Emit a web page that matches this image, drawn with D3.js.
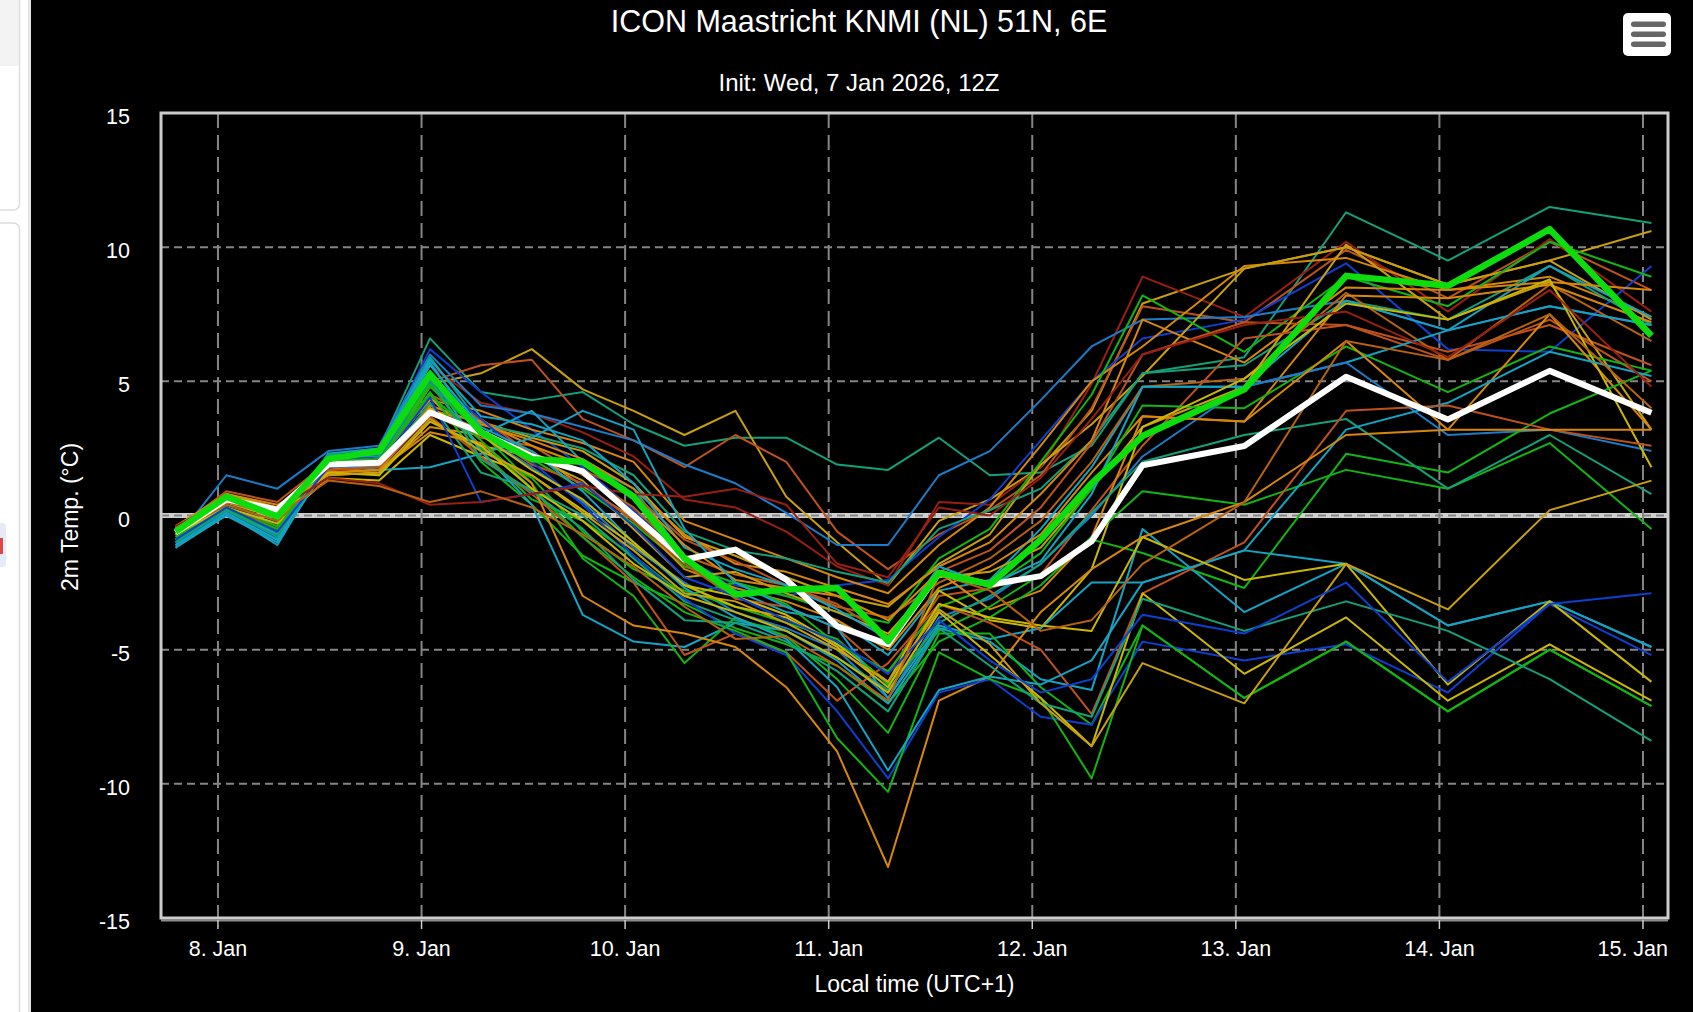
<!DOCTYPE html>
<html>
<head>
<meta charset="utf-8">
<script src="https://cdn.jsdelivr.net/npm/d3@7"></script>
<style>
  html, body { margin: 0; padding: 0; background: #fff; overflow: hidden; }
  svg { display: block; font-family: "Liberation Sans", Arial, Helvetica, sans-serif; }
</style>
</head>
<body>
<svg id="chart"></svg>
<script>
const W = 1693;
const H = 1012;

// ── Data ──────────────────────────────────────────────────────────────────────

const TITLE    = 'ICON Maastricht KNMI (NL) 51N, 6E';
const SUBTITLE = 'Init: Wed, 7 Jan 2026, 12Z';
const Y_TITLE  = '2m Temp. (°C)';
const X_TITLE  = 'Local time (UTC+1)';

const INIT_UTC   = Date.UTC(2026, 0, 7, 12);
const UTC_OFFSET = 1;
// forecast steps (hours after init): 6-hourly to +120h, then 12-hourly
const STEP_HOURS = [6, 12, 18, 24, 30, 36, 42, 48, 54, 60, 66, 72, 78, 84, 90,
                    96, 102, 108, 114, 120, 132, 144, 156, 168, 180];

const DAY_TICKS   = [8, 9, 10, 11, 12, 13, 14, 15];
const DAY_LABELS  = ['8. Jan', '9. Jan', '10. Jan', '11. Jan', '12. Jan', '13. Jan', '14. Jan', '15. Jan'];
const Y_TICKS     = [-15, -10, -5, 0, 5, 10, 15];

// ensemble members, one colour each
const MEMBER_COLORS = [
  'teal', 'gold', 'rust', 'darkred', 'blue', 'ltblue', 'orange', 'gold', 'teal', 'cyan',
  'green', 'orange', 'rust', 'brown', 'orange', 'gold', 'rust', 'green', 'cyan', 'ltblue',
  'orange', 'yellow', 'green', 'green', 'teal', 'cyan', 'cyan', 'green', 'rust', 'orange',
  'blue', 'green', 'cyan', 'yellow', 'yellow', 'teal', 'gold', 'blue', 'darkred', 'brown',
];

const MEMBERS = [
  [-0.8, 0.4, -0.2, 2.3, 2.5, 6.6, 4.6, 4.3, 4.6, 3.4, 2.6, 2.9, 2.9, 1.9, 1.7, 2.9, 1.5, 1.6, 2.6, 5.3, 5.9, 11.3, 9.5, 11.5, 10.9],
  [-0.6, 0.8, 0.2, 1.8, 2.0, 4.9, 5.3, 6.2, 4.7, 3.9, 3.0, 3.9, 0.7, -1.0, -2.6, -0.2, 0.6, 1.8, 3.9, 7.9, 9.2, 10.0, 8.6, 9.5, 7.3],
  [-0.5, 0.9, 0.5, 2.0, 2.2, 5.0, 5.6, 5.8, 3.6, 2.8, 1.8, 3.0, 2.0, -0.6, -2.0, -0.7, 0.2, 1.5, 4.0, 7.8, 7.2, 9.9, 8.1, 10.2, 8.4],
  [-0.7, 0.6, 0.0, 2.1, 2.3, 5.6, 4.2, 3.8, 3.1, 2.2, 0.6, 0.3, -0.6, -1.9, -2.6, 0.5, 0.4, 1.8, 4.9, 8.9, 7.4, 10.2, 7.6, 10.3, 7.6],
  [-1.0, 0.5, -0.4, 2.2, 2.4, 6.2, 4.6, 3.2, 1.8, 0.2, -1.6, -2.6, -3.0, -2.6, -2.4, -0.8, 0.6, 2.8, 5.0, 6.6, 7.3, 9.4, 6.2, 6.1, 9.3],
  [-0.9, 1.5, 1.0, 2.4, 2.6, 6.0, 4.1, 3.8, 3.3, 2.8, 1.9, 1.2, 0.1, -1.1, -1.1, 1.5, 2.4, 4.3, 6.3, 7.3, 7.4, 8.0, 6.9, 7.8, 7.1],
  [-0.4, 0.7, 0.3, 1.9, 2.1, 4.3, 3.9, 3.2, 2.7, 2.0, -0.2, -0.9, -1.6, -2.3, -2.9, -1.1, 0.3, 2.6, 5.0, 6.3, 9.3, 9.6, 8.4, 8.9, 7.4],
  [-0.6, 0.5, 0.0, 1.7, 1.9, 4.8, 3.5, 2.9, 2.4, 1.2, -0.8, -1.5, -2.3, -3.0, -3.4, -1.8, -0.7, 1.9, 3.4, 5.2, 9.2, 10.0, 8.6, 9.5, 10.6],
  [-1.1, 0.2, -0.6, 2.2, 2.4, 5.9, 3.4, 3.0, 2.5, 1.5, -0.6, -1.3, -1.6, -2.1, -2.5, -0.5, 0.2, 1.0, 2.8, 5.3, 5.6, 8.0, 7.3, 9.3, 7.1],
  [-1.2, 0.1, -1.1, 2.1, 2.3, 5.7, 3.0, 3.9, 2.0, 1.0, -1.5, -2.8, -3.6, -3.9, -5.2, -2.8, -2.4, -0.5, 1.8, 4.8, 4.8, 8.0, 6.9, 9.3, 7.4],
  [-0.8, 0.3, -0.4, 2.0, 1.5, 5.4, 3.1, 2.1, 1.0, -0.3, -1.9, -2.5, -3.0, -3.6, -4.0, -1.6, -0.5, 2.0, 4.5, 8.2, 6.1, 8.9, 7.8, 10.2, 8.9],
  [-0.5, 0.6, 0.2, 1.7, 1.8, 4.1, 3.4, 2.8, 2.1, 1.0, -0.7, -1.8, -2.1, -2.7, -3.3, -1.9, -1.0, 0.8, 2.8, 7.3, 5.7, 8.5, 8.4, 8.7, 8.4],
  [-0.6, 0.7, 0.1, 1.9, 2.0, 4.5, 3.6, 2.3, 1.7, 0.8, -0.9, -1.7, -2.6, -3.3, -4.5, -2.1, -1.3, 0.3, 2.7, 6.0, 7.2, 7.1, 6.1, 7.1, 5.6],
  [-0.7, 0.4, -0.2, 1.6, 1.7, 3.8, 2.9, 2.6, 1.5, 0.3, -1.5, -2.2, -2.6, -3.4, -3.8, -2.5, -1.6, -0.2, 2.0, 4.8, 5.1, 8.3, 5.8, 8.6, 6.5],
  [-0.4, 0.8, 0.4, 1.5, 1.6, 3.3, 3.0, 2.4, 1.1, -0.1, -2.0, -2.7, -3.2, -3.9, -5.0, -2.7, -1.9, -0.7, 1.6, 3.7, 3.5, 8.2, 8.1, 8.6, 7.2],
  [-0.6, 0.5, -0.1, 1.8, 1.9, 4.4, 2.6, 2.2, 1.3, -0.5, -2.3, -2.1, -2.9, -3.6, -4.4, -2.3, -2.1, -1.2, 1.0, 3.3, 4.8, 10.1, 7.3, 8.7, 3.2],
  [-0.9, 0.3, -0.5, 1.9, 2.1, 4.0, 3.2, 1.9, 1.2, -0.2, -1.8, -3.1, -3.4, -4.2, -5.9, -3.0, -2.7, -2.2, 0.2, 2.6, 6.6, 7.1, 5.8, 7.3, 5.0],
  [-1.0, 0.2, -0.7, 2.0, 2.2, 5.0, 2.4, 0.6, -0.2, -1.5, -3.0, -2.5, -3.3, -4.8, -5.8, -3.4, -2.7, -1.4, 1.0, 4.1, 4.0, 6.3, 4.6, 6.3, 5.4],
  [-1.1, 0.0, -0.9, 2.3, 2.5, 5.8, 3.7, 3.4, 2.8, 1.2, -1.2, -2.0, -2.6, -3.5, -4.6, -1.9, -2.6, -1.7, 0.8, 4.8, 4.8, 5.7, 6.9, 7.8, 7.1],
  [-0.9, 0.1, -0.8, 2.0, 2.1, 5.0, 3.0, 1.8, 0.5, -1.2, -2.5, -3.6, -4.2, -5.0, -6.8, -3.8, -3.1, -1.8, 0.0, 2.2, 4.8, 5.7, 3.0, 3.2, 2.4],
  [-0.5, 0.6, 0.1, 1.6, 1.7, 3.9, 3.5, 2.6, 1.9, 0.7, -1.1, -2.4, -2.7, -3.0, -3.9, -2.1, -3.5, -2.8, -0.8, 3.7, 3.5, 6.5, 3.2, 7.5, 3.2],
  [-0.7, 0.3, -0.3, 1.4, 1.3, 3.0, 2.2, 1.5, 0.2, -1.1, -2.6, -3.0, -3.7, -4.8, -6.2, -2.8, -3.9, -4.2, -2.0, 3.3, 5.1, 7.9, 7.3, 8.8, 1.8],
  [-1.0, 0.1, -0.6, 2.1, 2.0, 4.6, 2.0, 0.4, -1.5, -2.5, -3.3, -4.2, -4.8, -5.6, -7.0, -4.7, -3.8, -2.6, -0.8, 0.9, 0.4, 1.7, 1.0, 2.7, -0.5],
  [-0.9, 0.2, -0.5, 2.2, 2.3, 4.9, 2.5, 1.4, -0.6, -2.0, -2.8, -3.4, -4.0, -4.6, -6.3, -4.3, -3.4, -2.2, -0.9, -1.4, -2.7, 2.3, 1.6, 3.8, 5.4],
  [-1.1, 0.0, -0.9, 2.0, 1.8, 4.2, 1.6, 1.0, 0.0, -1.6, -3.2, -3.9, -4.3, -5.3, -6.5, -4.0, -3.0, -1.8, 0.1, 2.0, 3.0, 3.6, 1.0, 3.0, 0.8],
  [-1.2, 0.0, -1.0, 1.9, 1.7, 1.8, 2.3, 2.9, 3.9, 3.2, -0.5, -2.5, -3.4, -4.2, -6.8, -4.1, -4.6, -4.2, -2.5, -2.5, -1.3, 3.2, 4.2, 6.1, 5.2],
  [-1.0, 0.2, -0.7, 2.1, 2.2, 5.3, 2.4, 0.4, -3.7, -4.7, -4.9, -4.0, -4.3, -5.4, -7.0, -4.2, -4.7, -6.1, -6.5, -0.5, -3.6, -1.8, -4.1, -3.2, -4.9],
  [-0.9, 0.3, -0.6, 2.2, 2.0, 4.8, 3.1, 1.2, -1.6, -3.0, -5.5, -3.8, -4.5, -6.1, -8.1, -4.4, -4.4, -6.4, -7.8, -4.1, -6.8, -4.7, -7.3, -5.0, -7.1],
  [-0.6, 0.5, 0.0, 1.7, 1.8, 3.7, 2.2, 0.8, -0.8, -2.5, -5.2, -4.4, -5.1, -6.9, -5.5, -3.3, -4.0, -5.0, -7.4, -2.9, -1.0, 3.9, 4.1, 3.2, 2.6],
  [-0.5, 0.7, 0.2, 1.6, 1.7, 3.1, 2.7, 1.2, -3.0, -4.1, -4.4, -4.9, -6.4, -8.8, -13.1, -6.9, -6.0, -3.6, -2.0, -0.8, 0.5, 3.0, 3.2, 3.2, 3.2],
  [-1.0, 0.1, -0.8, 2.1, 2.2, 5.2, 3.6, 2.0, 0.4, -1.5, -3.1, -4.4, -5.2, -7.3, -9.8, -6.6, -6.1, -7.5, -7.8, -4.7, -5.4, -4.8, -6.6, -3.3, -5.2],
  [-0.9, 0.2, -0.6, 2.0, 2.1, 4.5, 2.8, 1.0, -0.8, -2.3, -3.6, -4.3, -5.1, -8.3, -10.3, -5.1, -6.1, -6.8, -9.8, -4.1, -6.8, -4.7, -7.3, -5.0, -7.1],
  [-1.1, 0.1, -0.9, 2.2, 2.3, 5.6, 3.3, 2.4, 0.9, -1.0, -2.7, -3.8, -4.6, -6.4, -9.5, -6.5, -6.0, -6.3, -5.4, -2.5, -1.3, -1.8, -4.1, -3.2, -4.9],
  [-0.6, 0.6, 0.1, 1.8, 1.9, 4.0, 3.0, 1.7, 0.6, -1.0, -2.6, -3.4, -3.8, -4.9, -6.4, -3.3, -3.8, -4.1, -4.3, -0.8, -2.4, -1.8, -6.3, -3.2, -6.2],
  [-0.7, 0.5, -0.1, 1.6, 1.5, 3.5, 2.6, 1.0, -0.2, -1.8, -3.0, -3.6, -4.3, -5.3, -6.6, -3.6, -5.2, -6.8, -8.6, -2.9, -5.9, -3.8, -6.9, -4.8, -6.9],
  [-1.0, 0.2, -0.8, 2.3, 2.2, 5.1, 2.1, 0.9, -0.5, -2.4, -3.9, -4.0, -4.7, -5.8, -7.3, -4.2, -5.6, -7.0, -7.5, -3.1, -4.3, -3.2, -4.3, -6.1, -8.4],
  [-0.5, 0.8, 0.3, 1.5, 1.6, 3.6, 2.4, 1.5, 0.1, -1.3, -2.9, -3.2, -4.0, -5.0, -6.2, -3.5, -4.8, -7.0, -8.6, -5.5, -7.0, -1.8, -3.5, 0.2, 1.3],
  [-0.9, 0.3, -0.6, 1.8, 1.9, 4.4, 0.5, 0.8, 1.2, -0.4, -2.3, -3.0, -3.9, -4.7, -5.9, -3.9, -5.4, -6.6, -6.1, -3.7, -4.4, -2.5, -6.2, -3.3, -2.9],
  [-0.4, 0.6, 0.2, 1.4, 1.2, 0.4, 0.5, 0.8, 1.1, 0.8, 0.7, 1.0, 0.4, -1.8, -2.3, 0.3, 0.0, 1.4, 3.6, 6.0, 7.1, 7.6, 5.9, 8.4, 4.8],
  [-0.5, 0.5, 0.0, 1.3, 1.1, 0.5, 0.9, 0.3, -0.7, -1.9, -3.4, -4.6, -4.5, -5.6, -6.9, -2.2, -2.8, -4.3, -3.9, -1.8, 0.5, 6.5, 5.8, 7.5, 4.0],
];

// thick green run and thick white run
const CONTROL = [-0.6, 0.7, -0.04, 2.1, 2.4, 5.26, 3.1, 2.1, 2.0, 0.7, -1.6, -2.94, -2.76, -2.7, -4.68, -2.14, -2.57, -0.9, 1.2, 2.96, 4.7, 8.93, 8.56, 10.67, 6.7];
const MEAN    = [-0.63, 0.6, 0.22, 1.9, 1.97, 3.84, 3.1, 2.2, 1.64, 0.0, -1.64, -1.27, -2.39, -4.12, -4.8, -2.14, -2.57, -2.26, -0.96, 1.87, 2.59, 5.17, 3.58, 5.39, 3.83];

// ── Colors ────────────────────────────────────────────────────────────────────

const PALETTE = {
  teal:    '#13a07a',
  blue:    '#0d3fd0',
  ltblue:  '#1c7cc9',
  green:   '#12b512',
  cyan:    '#14a3c4',
  orange:  '#d8870a',
  gold:    '#c9a00c',
  yellow:  '#cdb800',
  rust:    '#bf521a',
  darkred: '#981f12',
  brown:   '#b8620f',
};

const GRID_COLOR   = '#858585';
const BORDER_COLOR = '#cccccc';
const TEXT_COLOR   = '#ffffff';

// ── Layout ────────────────────────────────────────────────────────────────────

const PLOT = { left: 161, right: 1668, top: 113, bottom: 918 };
const CHART_LEFT = 31;

const toLocal = h => new Date(INIT_UTC + (h + UTC_OFFSET) * 3600e3);
const TIMES = STEP_HOURS.map(toLocal);

const x = d3.scaleUtc()
  .domain([Date.UTC(2026, 0, 7, 17, 17), Date.UTC(2026, 0, 15, 2, 57)])
  .range([PLOT.left, PLOT.right]);

const y = d3.scaleLinear()
  .domain([-15, 15])
  .range([PLOT.bottom, PLOT.top]);

const svg = d3.select('#chart').attr('width', W).attr('height', H);

// ── Page strip on the left ────────────────────────────────────────────────────

svg.append('rect').attr('x', 0).attr('y', 0).attr('width', CHART_LEFT).attr('height', H).attr('fill', '#fff');
svg.append('rect').attr('x', 0).attr('y', 0).attr('width', 19).attr('height', 66).attr('fill', '#f3f3f3');
svg.append('rect').attr('x', -10).attr('y', -6).attr('width', 29.5).attr('height', 216).attr('rx', 6)
  .attr('fill', 'none').attr('stroke', '#dddddd').attr('stroke-width', 1.5);
svg.append('rect').attr('x', -10).attr('y', 223).attr('width', 29.5).attr('height', 820).attr('rx', 6)
  .attr('fill', 'none').attr('stroke', '#dddddd').attr('stroke-width', 1.5);
svg.append('rect').attr('x', -6).attr('y', 523).attr('width', 12).attr('height', 44).attr('rx', 4).attr('fill', '#e6eaf6');
svg.append('rect').attr('x', 0).attr('y', 538).attr('width', 3).attr('height', 16).attr('fill', '#d84a4a');
svg.append('rect').attr('x', 28).attr('y', 0).attr('width', 3).attr('height', H).attr('fill', '#e4e4e4');

// ── Chart container ───────────────────────────────────────────────────────────

svg.append('rect')
  .attr('x', CHART_LEFT).attr('y', 0)
  .attr('width', W - CHART_LEFT).attr('height', H)
  .attr('fill', '#000');

svg.append('text')
  .attr('x', 859).attr('y', 32)
  .attr('text-anchor', 'middle')
  .attr('fill', TEXT_COLOR)
  .style('font-size', '30.5px')
  .text(TITLE);

svg.append('text')
  .attr('x', 859).attr('y', 91)
  .attr('text-anchor', 'middle')
  .attr('fill', TEXT_COLOR)
  .style('font-size', '24px')
  .text(SUBTITLE);

// hamburger menu button
const menu = svg.append('g').attr('transform', 'translate(1623,13)');
menu.append('rect').attr('width', 48).attr('height', 43).attr('rx', 5).attr('fill', '#fff');
[11, 21, 31].forEach(cy => {
  menu.append('rect').attr('x', 8).attr('y', cy - 2.5).attr('width', 35).attr('height', 5.5)
    .attr('rx', 2.7).attr('fill', '#666');
});

// ── Plot background layers ────────────────────────────────────────────────────

svg.append('defs').append('clipPath').attr('id', 'plot-clip')
  .append('rect')
  .attr('x', PLOT.left).attr('y', PLOT.top)
  .attr('width', PLOT.right - PLOT.left).attr('height', PLOT.bottom - PLOT.top);

// zero line
svg.append('line')
  .attr('x1', PLOT.left).attr('x2', PLOT.right)
  .attr('y1', y(0)).attr('y2', y(0))
  .attr('stroke', '#cfcfcf').attr('stroke-width', 5);

// grid
const grid = svg.append('g');
grid.selectAll('line.h')
  .data(Y_TICKS.filter(v => v > -15 && v < 15))
  .join('line')
  .attr('class', 'h')
  .attr('x1', PLOT.left).attr('x2', PLOT.right)
  .attr('y1', d => y(d)).attr('y2', d => y(d))
  .attr('stroke', GRID_COLOR).attr('stroke-width', 2)
  .attr('stroke-dasharray', '8,5');

const dayDate = d => new Date(Date.UTC(2026, 0, d));

grid.selectAll('line.v')
  .data(DAY_TICKS)
  .join('line')
  .attr('class', 'v')
  .attr('x1', d => x(dayDate(d))).attr('x2', d => x(dayDate(d)))
  .attr('y1', PLOT.top).attr('y2', PLOT.bottom)
  .attr('stroke', GRID_COLOR).attr('stroke-width', 2)
  .attr('stroke-dasharray', '15,7');

// ── Series ────────────────────────────────────────────────────────────────────

const line = d3.line()
  .x((d, i) => x(TIMES[i]))
  .y(d => y(d));

const series = svg.append('g').attr('clip-path', 'url(#plot-clip)');

series.selectAll('path.member')
  .data(MEMBERS)
  .join('path')
  .attr('class', 'member')
  .attr('d', line)
  .attr('fill', 'none')
  .attr('stroke', (d, i) => PALETTE[MEMBER_COLORS[i]])
  .attr('stroke-width', 2)
  .attr('stroke-linejoin', 'round');

series.append('path')
  .attr('d', line(MEAN))
  .attr('fill', 'none')
  .attr('stroke', '#ffffff')
  .attr('stroke-width', 6)
  .attr('stroke-linejoin', 'round');

series.append('path')
  .attr('d', line(CONTROL))
  .attr('fill', 'none')
  .attr('stroke', '#0ddc0d')
  .attr('stroke-width', 6.5)
  .attr('stroke-linejoin', 'round');

// ── Frame & axes ──────────────────────────────────────────────────────────────

svg.append('line')
  .attr('x1', PLOT.left).attr('x2', PLOT.right)
  .attr('y1', PLOT.bottom + 2.5).attr('y2', PLOT.bottom + 2.5)
  .attr('stroke', '#8c8c8c').attr('stroke-width', 2);

svg.append('rect')
  .attr('x', PLOT.left).attr('y', PLOT.top)
  .attr('width', PLOT.right - PLOT.left).attr('height', PLOT.bottom - PLOT.top)
  .attr('fill', 'none')
  .attr('stroke', BORDER_COLOR).attr('stroke-width', 3);

// x ticks
svg.append('g').selectAll('line')
  .data(DAY_TICKS)
  .join('line')
  .attr('x1', d => x(dayDate(d))).attr('x2', d => x(dayDate(d)))
  .attr('y1', PLOT.bottom + 2).attr('y2', PLOT.bottom + 11)
  .attr('stroke', BORDER_COLOR).attr('stroke-width', 1.5);

const xLabels = svg.append('g').selectAll('text')
  .data(DAY_TICKS)
  .join('text')
  .attr('x', d => x(dayDate(d)))
  .attr('y', 956)
  .attr('text-anchor', 'middle')
  .attr('fill', TEXT_COLOR)
  .style('font-size', '21.5px')
  .text((d, i) => DAY_LABELS[i]);

// keep the last label inside the plot's right edge
xLabels.each(function (d) {
  const w = this.getComputedTextLength();
  const cx = x(dayDate(d));
  if (cx + w / 2 > PLOT.right) d3.select(this).attr('x', PLOT.right - w / 2);
});

// y labels
svg.append('g').selectAll('text')
  .data(Y_TICKS)
  .join('text')
  .attr('x', 130)
  .attr('y', d => y(d) + 11)
  .attr('text-anchor', 'end')
  .attr('fill', TEXT_COLOR)
  .style('font-size', '21.5px')
  .text(d => d);

svg.append('text')
  .attr('transform', 'translate(78,517) rotate(-90)')
  .attr('text-anchor', 'middle')
  .attr('fill', TEXT_COLOR)
  .style('font-size', '23px')
  .text(Y_TITLE);

svg.append('text')
  .attr('x', (PLOT.left + PLOT.right) / 2)
  .attr('y', 992)
  .attr('text-anchor', 'middle')
  .attr('fill', TEXT_COLOR)
  .style('font-size', '23px')
  .text(X_TITLE);
</script>
</body>
</html>
